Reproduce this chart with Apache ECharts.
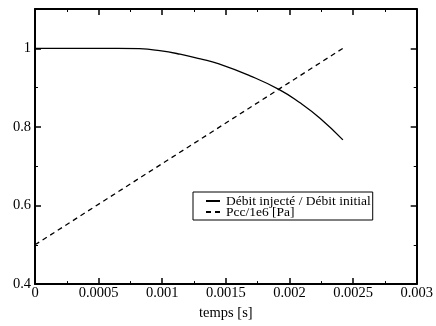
<!DOCTYPE html>
<html><head><meta charset="utf-8">
<script src="https://cdn.jsdelivr.net/npm/echarts@6/dist/echarts.min.js"></script>
<style>html,body{margin:0;padding:0;background:#fff}#c{width:436px;height:326px}</style>
</head><body><div id="c"></div>
<script>
const debitT = [0, 0.0005, 0.00065, 0.00082, 0.00098, 0.00114, 0.0013, 0.00144, 0.00169, 0.00192, 0.00208, 0.00224, 0.00242];
const debitV = [1.0, 1.0, 1.0, 0.999, 0.994, 0.985, 0.973, 0.961, 0.930, 0.895, 0.862, 0.822, 0.767];
const pccT = [0, 0.00242];
const pccV = [0.5, 1.0];
const seriesNames = ['Débit injecté / Débit initial', 'Pcc/1e6 [Pa]'];
const xTitle = 'temps [s]';

const font = 'Liberation Serif, Times New Roman, serif';
const chart = echarts.init(document.getElementById('c'), null, {renderer: 'canvas'});
const axisCommon = {
  axisLine: {show: true, onZero: false, lineStyle: {color: '#000', width: 2}},
  axisTick: {show: true, inside: true, length: 6, lineStyle: {color: '#000', width: 1.5}},
  minorTick: {show: true, splitNumber: 2, length: 3, lineStyle: {color: '#000', width: 1}},
  splitLine: {show: false}
};
chart.setOption({
  animation: false,
  backgroundColor: '#fff',
  grid: {left: 35, right: 19, top: 9, bottom: 36},
  legend: {
    orient: 'vertical', left: 193, top: 192,
    backgroundColor: '#fff', borderColor: '#000', borderWidth: 1,
    padding: [2, 2, 1, 12], itemGap: -3, itemWidth: 14, itemHeight: 10,
    itemStyle: {opacity: 0},
    textStyle: {fontFamily: font, fontSize: 13.5, color: '#000', padding: [0, 0, 0, 1]},
    data: seriesNames
  },
  xAxis: [
    Object.assign({type: 'value', min: 0, max: 0.003, interval: 0.0005, position: 'bottom',
      name: xTitle, nameLocation: 'middle', nameGap: 18,
      nameTextStyle: {fontFamily: font, fontSize: 14.5, color: '#000'},
      axisLabel: {fontFamily: font, fontSize: 14.5, color: '#000', margin: 2}}, axisCommon),
    Object.assign({type: 'value', min: 0, max: 0.003, interval: 0.0005, position: 'top',
      axisLabel: {show: false}}, axisCommon)
  ],
  yAxis: [
    Object.assign({type: 'value', min: 0.4, max: 1.1, interval: 0.2, position: 'left',
      axisLabel: {fontFamily: font, fontSize: 14.5, color: '#000', margin: 4, showMaxLabel: false}}, axisCommon),
    Object.assign({type: 'value', min: 0.4, max: 1.1, interval: 0.2, position: 'right',
      axisLabel: {show: false}}, axisCommon)
  ],
  series: [
    {name: seriesNames[0], type: 'line', symbol: 'none', smooth: 0.5,
      data: debitT.map((t, i) => [t, debitV[i]]),
      lineStyle: {color: '#000', width: 1.3}, itemStyle: {color: '#000'}},
    {name: seriesNames[1], type: 'line', symbol: 'none',
      data: pccT.map((t, i) => [t, pccV[i]]),
      lineStyle: {color: '#000', width: 1.3, type: [5, 4]}, itemStyle: {color: '#000'}}
  ]
});
</script></body></html>
